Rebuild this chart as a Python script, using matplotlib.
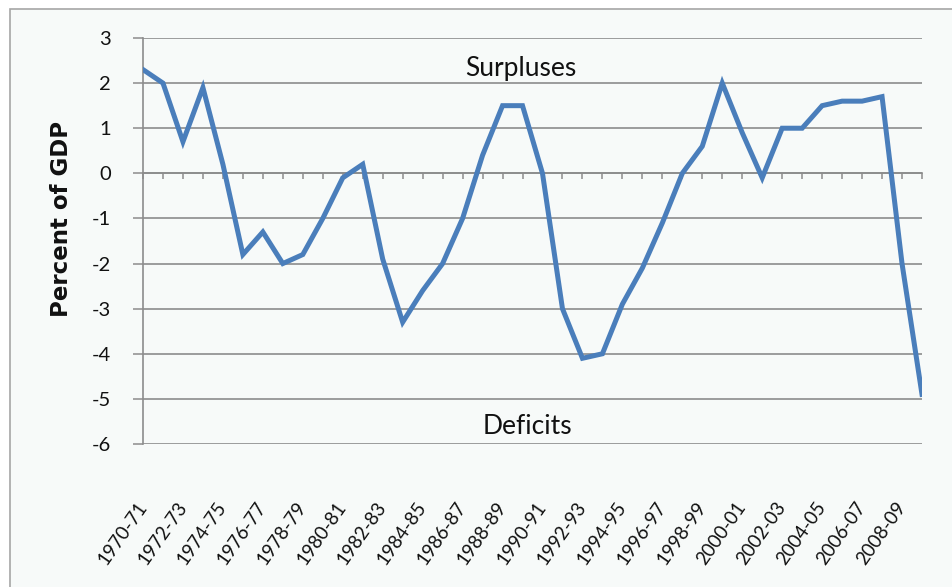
import matplotlib.pyplot as plt
from matplotlib.patches import Rectangle

# budget balance, percent of GDP, 1970-71 .. 2009-10
years = [f'{y}-{(y + 1) % 100:02d}' for y in range(1970, 2010)]
balance = [2.3, 2.0, 0.7, 1.9, 0.2, -1.8, -1.3, -2.0, -1.8, -1.0,
           -0.1, 0.2, -1.9, -3.3, -2.6, -2.0, -1.0, 0.4, 1.5, 1.5,
           0.0, -3.0, -4.1, -4.0, -2.9, -2.1, -1.1, 0.0, 0.6, 2.0,
           0.9, -0.1, 1.0, 1.0, 1.5, 1.6, 1.6, 1.7, -2.0, -4.9]
y_ticks = [3, 2, 1, 0, -1, -2, -3, -4, -5, -6]

plt.rcParams['font.family'] = ['Lato', 'DejaVu Sans']
plt.rcParams['axes.unicode_minus'] = False
grid_col = '#8c8c8c'

fig = plt.figure(figsize=(9.53, 5.87), dpi=100, facecolor='white')

# chart area frame
fig.patches.append(Rectangle((10 / 953, -0.1), 1.2, 1.1 - 9 / 587,
                             transform=fig.transFigure, facecolor='#f7faf9',
                             edgecolor='#a6a6a6', linewidth=1.2, zorder=-10))

ax = fig.add_axes([143 / 953, 1 - 444 / 587, (922 - 143) / 953, (444 - 38) / 587])
ax.set_facecolor('none')

x = list(range(len(years)))
ax.plot(x, balance, color='#4a7ebb', linewidth=3.6, solid_joinstyle='miter', zorder=3)

ax.set_xlim(0, len(years) - 1)
ax.set_ylim(-6, 3)
ax.set_yticks(y_ticks)
ax.yaxis.grid(True, color=grid_col, linewidth=1.2)
ax.set_axisbelow(True)
ax.tick_params(axis='y', length=7, width=1.1, color=grid_col, labelsize=14.5,
               pad=16, labelcolor='#111111')

for s in ['top', 'right']:
    ax.spines[s].set_visible(False)
ax.spines['left'].set_color(grid_col)
ax.spines['left'].set_linewidth(1.2)
ax.spines['bottom'].set_position(('data', 0))
ax.spines['bottom'].set_color(grid_col)
ax.spines['bottom'].set_linewidth(1.2)
ax.set_xticks(x)
ax.tick_params(axis='x', length=4, width=1.1, color=grid_col, labelbottom=False)

# category labels below the plot, every second year
sec = ax.secondary_xaxis('bottom')
sec.set_xticks(x[::2], years[::2], rotation=55, ha='right', va='center',
               rotation_mode='anchor', fontsize=13.5, color='#111111')
sec.tick_params(length=0, pad=43)
sec.spines['bottom'].set_visible(False)

ax.text(0.485, 0.925, 'Surpluses', transform=ax.transAxes, ha='center',
        va='center', fontsize=19, color='#111111')
ax.text(0.494, 0.044, 'Deficits', transform=ax.transAxes, ha='center',
        va='center', fontsize=19, color='#111111')

fig.text(62 / 953, 1 - 219 / 587, 'Percent of GDP', rotation=90, ha='center',
         va='center', fontsize=16.5, fontweight='bold', color='#111111',
         family=['DejaVu Sans'])

fig.savefig('out.png', dpi=100)
